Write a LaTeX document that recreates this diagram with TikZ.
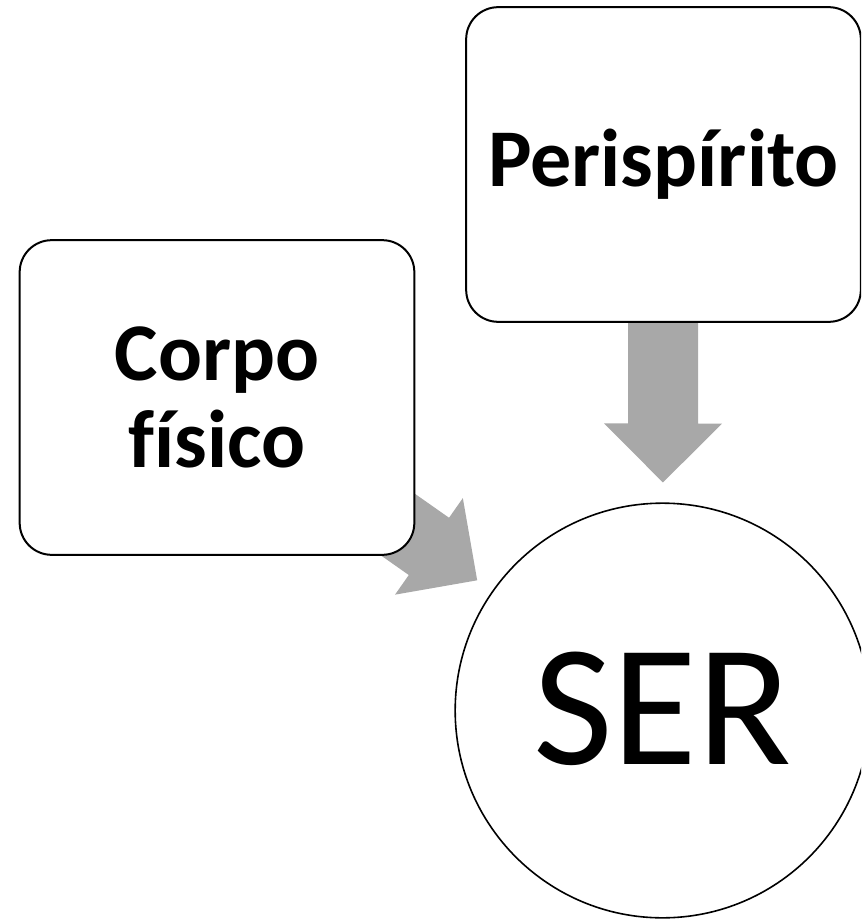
\documentclass[tikz,border=0pt]{standalone}
\usepackage{fontspec}
\setmainfont[Ligatures=CommonOff]{Carlito}
\usetikzlibrary{calc,backgrounds}
\definecolor{arrowgray}{RGB}{168,168,168}
\begin{document}
\begin{tikzpicture}[x=0.75pt,y=-0.75pt,
  box/.style={draw=black, line width=1.5pt, fill=white, rounded corners=24pt,
    minimum width=296pt, minimum height=236pt, inner sep=0pt, align=center,
    font=\fontsize{61.5}{65}\selectfont\bfseries},
  sercircle/.style={circle, draw=black, line width=1.2pt, fill=white,
    minimum size=311pt, inner sep=0pt, font=\fontsize{130}{130}\selectfont},
  blockarrow/.style={fill=arrowgray, draw=none}
]
\useasboundingbox (0,0) rectangle (861,920);
\clip (0,0) rectangle (861,920);

\node[box] (peri) at (663.5,164.5) {Perispírito};
\node[box] (corpo) at (217,397.5) {Corpo\\f\kern0ptísico};
\node[sercircle] (ser) at (662.5,710.5) {\raisebox{3pt}{SER}};

\begin{scope}[on background layer]
  \foreach \src in {peri,corpo}{
    \coordinate (t) at ($(\src)!75pt!(ser)$);
    \coordinate (b) at ($(\src)!194.25pt!(ser)$);
    \coordinate (tip) at ($(\src)!238.5pt!(ser)$);
    \fill[blockarrow]
      ($(t)!26.25pt!90:(ser)$) --
      ($(b)!26.25pt!90:(ser)$) --
      ($(b)!44.25pt!90:(ser)$) --
      (tip) --
      ($(b)!44.25pt!-90:(ser)$) --
      ($(b)!26.25pt!-90:(ser)$) --
      ($(t)!26.25pt!-90:(ser)$) -- cycle;
  }
\end{scope}
\end{tikzpicture}
\end{document}
